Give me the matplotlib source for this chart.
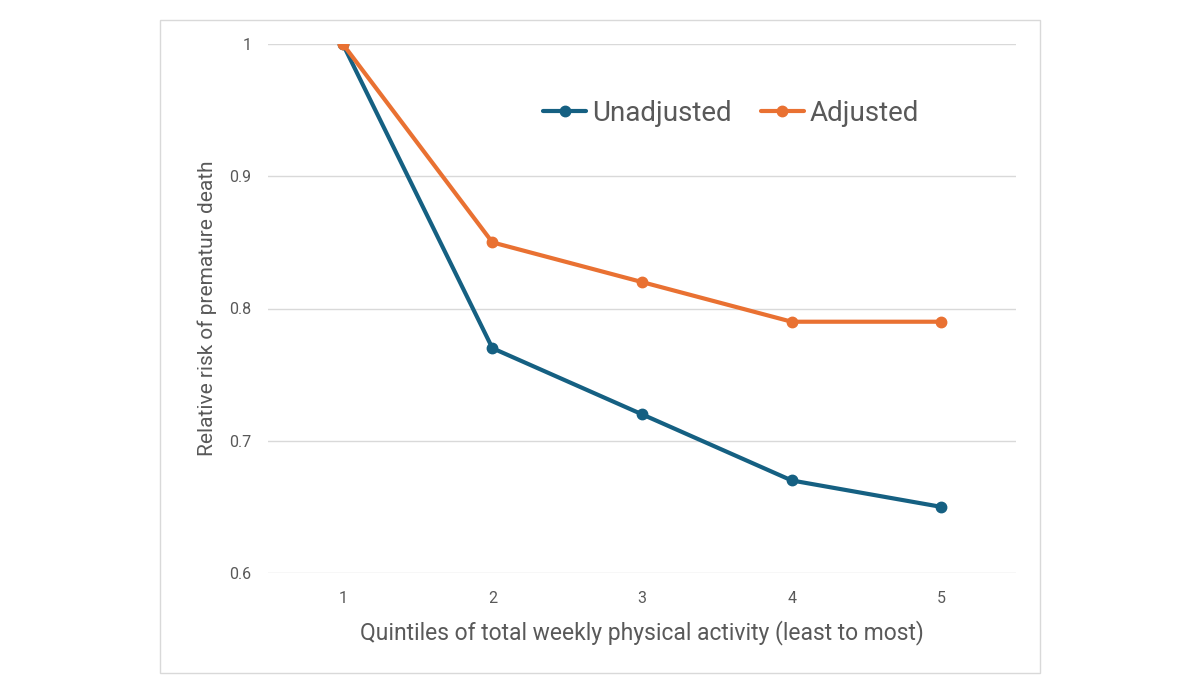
import matplotlib.pyplot as plt
from matplotlib.patches import Rectangle

quintiles = [1, 2, 3, 4, 5]
unadjusted = [1.0, 0.77, 0.72, 0.67, 0.65]
adjusted = [1.0, 0.85, 0.82, 0.79, 0.79]
y_ticks = [0.6, 0.7, 0.8, 0.9, 1.0]
y_tick_labels = ["0.6", "0.7", "0.8", "0.9", "1"]

BLUE = "#156082"
ORANGE = "#E97132"
TXT = "#595959"

plt.rcParams["font.family"] = ["Roboto", "DejaVu Sans"]

fig = plt.figure(figsize=(12, 6.75), dpi=100)
fig.patches.append(Rectangle((160 / 1200, 2 / 675), 880 / 1200, 653 / 675,
                             transform=fig.transFigure, fill=False,
                             edgecolor="#D9D9D9", linewidth=1))
ax = fig.add_axes([268 / 1200, 1 - 573 / 675, 748 / 1200, 529 / 675])

ax.plot(quintiles, unadjusted, color=BLUE, lw=3, marker="o", ms=7.5,
        label="Unadjusted", solid_capstyle="round", zorder=3)
ax.plot(quintiles, adjusted, color=ORANGE, lw=3, marker="o", ms=7.5,
        label="Adjusted", solid_capstyle="round", zorder=3)

ax.set_xlim(0.5, 5.5)
ax.set_ylim(0.6, 1.0)
ax.set_xticks(quintiles)
ax.set_yticks(y_ticks)
ax.set_yticklabels(y_tick_labels)
ax.grid(axis="y", color="#D9D9D9", lw=1)
ax.set_axisbelow(True)
for sp in ax.spines.values():
    sp.set_visible(False)
ax.tick_params(length=0, colors=TXT, labelsize=11.5)
ax.tick_params(axis="x", pad=13)
ax.tick_params(axis="y", pad=12)

ax.set_xlabel("Quintiles of total weekly physical activity (least to most)",
              fontsize=16.5, color=TXT, labelpad=10)
ax.set_ylabel("Relative risk of premature death", fontsize=15, color=TXT,
              labelpad=9)

leg = ax.legend(loc="center", bbox_to_anchor=(0.619, 0.869),
                ncol=2, frameon=False, fontsize=20, handlelength=1.55,
                columnspacing=1.05, handletextpad=0.2)
for t in leg.get_texts():
    t.set_color(TXT)

fig.savefig("out.png", dpi=100)
